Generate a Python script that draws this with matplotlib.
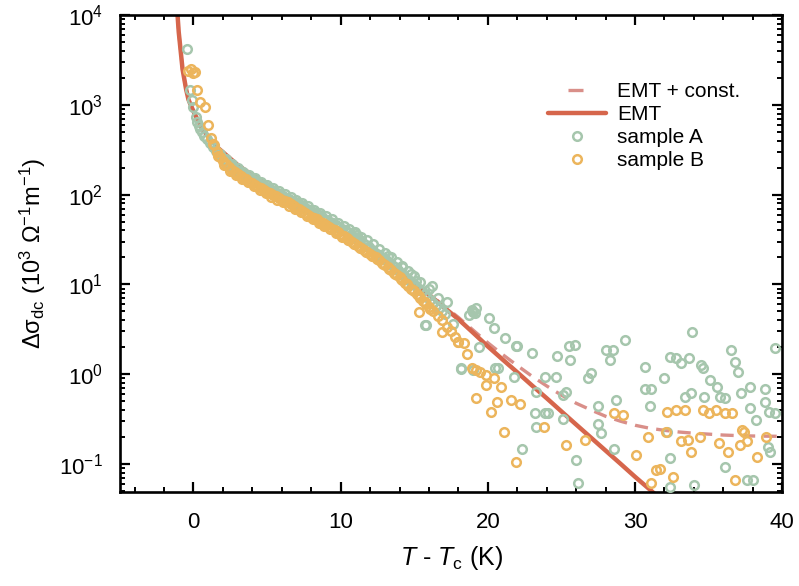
import matplotlib
matplotlib.use("Agg")
import matplotlib.pyplot as plt
from matplotlib.lines import Line2D
from matplotlib.ticker import MultipleLocator

plt.rcParams['font.family'] = ['Liberation Sans', 'DejaVu Sans']
plt.rcParams['mathtext.fontset'] = 'custom'
plt.rcParams['mathtext.rm'] = 'Liberation Sans'
plt.rcParams['mathtext.it'] = 'Liberation Sans:italic'
plt.rcParams['lines.scale_dashes'] = False
plt.rcParams['axes.unicode_minus'] = False

# EMT fit
emt_x = [-1.08, -1.0, -0.9, -0.74, -0.5, -0.34, 0.0, 0.27, 0.6, 1.15, 1.6, 2.3, 3.0, 4.0, 5.0,
         6.0, 7.0, 8.0, 9.0, 10.0, 11.0, 12.0, 13.0, 14.0, 15.0, 16.0, 17.0, 18.0, 19.0, 20.0,
         21.0, 22.0, 23.0, 24.0, 25.0, 26.0, 27.0, 28.0, 29.0, 30.0, 31.0, 32.0]
emt_y = [10000, 6500, 4500, 2500, 1500, 1150, 850, 690, 540, 415, 340, 270, 215, 165, 130,
         100, 78, 62, 48, 38, 30, 23, 17.5, 13.5, 10.3, 7.7, 5.6, 4.1, 2.9, 2.04,
         1.46, 1.05, 0.75, 0.54, 0.385, 0.275, 0.197, 0.141, 0.101, 0.072, 0.052, 0.037]

# EMT + constant
emtc_x = [-1.08, -1.0, -0.9, -0.74, -0.5, -0.34, 0.0, 0.27, 0.6, 1.15, 1.6, 2.3, 3.0, 4.0, 5.0,
          6.0, 7.0, 8.0, 9.0, 10.0, 11.0, 12.0, 13.0, 14.0, 15.0, 16.0, 17.0, 18.0, 19.0, 20.0,
          21.0, 22.0, 23.0, 24.0, 25.0, 26.0, 27.0, 28.0, 29.0, 30.0, 31.0, 32.0, 33.0, 34.0,
          35.0, 36.0, 37.0, 38.0, 39.0, 40.0]
emtc_y = [10000, 6500, 4500, 2500, 1500, 1150, 850, 690, 540, 415, 340, 270, 215, 165, 130,
          100, 78, 62, 48, 38, 30, 23, 17.7, 13.7, 10.5, 7.9, 5.8, 4.3, 3.1, 2.24,
          1.66, 1.25, 0.95, 0.74, 0.585, 0.475, 0.40, 0.34, 0.30, 0.27, 0.25, 0.237, 0.227, 0.22,
          0.215, 0.21, 0.207, 0.205, 0.204, 0.203]

# sample A (green)
a_x = [-0.43, -0.25, -0.1, 0.0, 0.14, 0.25, 0.35, 0.47, 0.6, 0.75, 0.93, 1.1, 1.3, 1.5, 1.7, 1.9,
       2.1, 2.3, 2.5, 2.7, 2.9, 3.1, 3.3, 3.5, 3.7, 3.9, 4.1, 4.3, 4.5, 4.7, 4.9, 5.1, 5.3, 5.5,
       5.7, 5.9, 6.1, 6.3, 6.5, 6.7, 6.9, 7.1, 7.3, 7.5, 7.7, 7.9, 8.1, 8.3, 8.5, 8.7, 8.9, 9.1,
       9.3, 9.5, 9.7, 9.9, 10.1, 10.3, 10.5, 10.7, 10.9, 11.1, 11.3, 11.5, 11.7, 11.9, 12.1, 12.3,
       12.5, 12.7, 12.9, 13.1, 13.3, 13.5, 13.7, 13.9, 14.1, 14.3, 14.5, 14.7, 14.9, 15.1, 15.3,
       15.5, 15.7, 15.9, 16.1, 16.3, 16.5, 16.7, 16.9, 17.1,
       1.4, 1.8, 2.2, 2.6, 3.0, 3.4, 3.8, 4.2, 4.6, 5.0, 5.4, 5.8, 6.2, 6.6, 7.0, 7.4, 7.8, 8.2,
       8.6, 9.0, 9.4, 9.8, 10.2, 10.6, 11.0, 11.4, 11.8, 12.2, 12.6, 13.0, 13.4, 13.8, 14.2,
       14.6, 15.0, 15.4, 16.0, 16.6,
       11.1, 10.9, 13.2, 14.2, 14.8, 15.1, 16.2, 17.2, 15.8, 17.6, 18.2, 18.9, 19.0, 19.2, 18.7,
       19.4, 15.7, 20.1, 20.4, 21.2, 21.9, 23.0, 24.7, 25.6, 25.5, 25.9, 28.0, 28.5, 28.3, 29.3,
       30.7, 32.4, 32.8, 33.7, 33.9, 33.1, 34.5, 34.6, 36.5, 36.8, 37.0, 39.5, 18.2, 20.5, 20.7,
       21.8, 23.9, 26.8, 27.0, 23.3, 25.3, 23.9, 23.2, 24.1, 25.1, 23.3, 27.5, 27.7, 27.5, 28.7,
       22.3, 26.0, 26.1, 28.6, 30.7, 31.0, 32.2, 32.4, 32.4, 33.4, 33.8, 34.0, 34.7, 35.1, 35.6,
       35.8, 36.1, 36.1, 37.2, 37.8, 37.8, 37.6, 38.0, 38.8, 38.8, 38.2, 39.1, 39.5, 39.0, 39.2,
       31.1, 32.0, 19.1, 24.6, 25.1, 19.0, 22.0]
a_y = [4200, 1480, 1150, 950, 740, 650, 590, 540, 500, 455, 415, 375, 340, 310, 285, 262,
       243, 228, 214, 202, 191, 182, 173, 165, 158, 151, 145, 139, 133, 128, 123, 118, 113, 109,
       105, 101, 97, 93, 89, 86, 82, 79, 76, 73, 70, 67, 64, 62, 59, 57, 54, 52,
       50, 48, 46, 44, 42, 40, 38, 36, 34, 33, 31, 29, 27.5, 26, 24.5, 23,
       22, 21, 19.5, 18.5, 17.5, 16.5, 15.5, 14.5, 13.5, 12.5, 11.8, 11, 10.3, 9.6, 9.0,
       8.4, 7.8, 7.2, 6.7, 6.2, 5.8, 5.4, 5.0, 4.7,
       340, 285, 250, 222, 198, 180, 165, 152, 140, 130, 120, 111, 103, 95, 88, 81, 74, 68,
       63, 58, 53, 49, 45, 41, 38, 34, 31, 28, 25, 22.5, 20, 18, 16,
       14, 12.3, 10.6, 8.8, 7.0,
       36, 37, 21, 15.5, 13, 11, 9.5, 6.3, 3.5, 3.6, 1.15, 5.25, 4.9, 5.4, 4.6,
       2.0, 3.55, 4.27, 3.31, 2.51, 2.04, 1.74, 1.58, 1.45, 2.04, 2.09, 1.86, 1.86, 1.45, 2.40,
       1.20, 1.55, 1.51, 1.51, 2.95, 1.32, 1.26, 1.17, 1.86, 1.38, 1.05, 1.95, 1.17, 1.17, 1.17,
       0.93, 0.93, 0.91, 1.02, 0.63, 0.63, 0.37, 0.37, 0.37, 0.32, 0.26, 0.28, 0.22, 0.44, 0.51,
       0.145, 0.11, 0.062, 0.145, 0.68, 0.44, 0.23, 0.117, 0.055, 0.56, 0.62, 0.059, 0.56, 0.87, 0.72,
       0.56, 0.54, 0.093, 0.62, 0.72, 0.42, 0.066, 0.066, 0.68, 0.49, 0.31, 0.38, 0.37, 0.155, 0.135,
       0.68, 0.91, 4.79, 0.93, 0.59, 1.12, 2.04]

# sample B (orange)
b_x = [-0.35, -0.2, -0.05, 0.1, 0.27, 0.47, 0.8, 1.0,
       1.2, 1.4, 1.6, 1.8, 2.0, 2.2, 2.4, 2.6, 2.8, 3.0, 3.2, 3.4, 3.6, 3.8, 4.0, 4.2, 4.4, 4.6,
       4.8, 5.0, 5.2, 5.4, 5.6, 5.8, 6.0, 6.2, 6.4, 6.6, 6.8, 7.0, 7.2, 7.4, 7.6, 7.8, 8.0, 8.2,
       8.4, 8.6, 8.8, 9.0, 9.2, 9.4, 9.6, 9.8, 10.0, 10.2, 10.4, 10.6, 10.8, 11.0, 11.2, 11.4,
       11.6, 11.8, 12.0, 12.2, 12.4, 12.6, 12.8, 13.0, 13.2, 13.4, 13.6, 13.8, 14.0, 14.2, 14.4,
       14.6, 14.8, 15.0, 15.2, 15.4, 15.6, 15.8, 16.0, 16.3, 16.6, 16.9, 17.2, 17.5, 17.8, 18.0,
       1.3, 1.7, 2.1, 2.5, 2.9, 3.3, 3.7, 4.1, 4.5, 4.9, 5.3, 5.7, 6.1, 6.5, 6.9, 7.3, 7.7, 8.1,
       8.5, 8.9, 9.3, 9.7, 10.1, 10.5, 10.9, 11.3, 11.7, 12.1, 12.5, 12.9, 13.3, 13.7, 14.1,
       14.5, 14.9, 15.3, 15.7, 16.1,
       15.3, 16.9, 18.0, 18.4, 18.6, 18.9, 19.2, 19.5, 19.9, 20.4, 19.9, 19.2, 20.9, 20.2, 20.6,
       21.6, 22.2, 21.1, 21.9, 23.8, 25.3, 26.6, 28.6, 29.2, 30.1, 30.9, 32.1, 31.4, 31.7, 31.1,
       32.6, 32.2, 32.8, 33.4, 33.8, 33.1, 33.6, 34.4, 34.6, 35.0, 35.5, 36.1, 36.6, 35.7, 36.3,
       36.8, 37.1, 37.4, 37.6, 38.3, 38.9, 37.3]
b_y = [2400, 2500, 2300, 2350, 1480, 1070, 940, 600,
       430, 360, 300, 265, 240, 220, 205, 190, 180, 170, 162, 155, 148, 140, 134, 128, 123, 118,
       113, 108, 104, 100, 96, 92, 88, 85, 82, 78, 75, 72, 69, 66, 63, 60, 57, 55,
       53, 50, 48, 46, 44, 42, 40, 38, 36, 34.5, 33, 31.5, 30, 28.5, 27, 25.5,
       24, 23, 22, 21, 20, 18.5, 17.5, 16.5, 15.5, 14.5, 13.5, 12.8, 12, 11.2, 10.5,
       9.6, 9.0, 8.4, 7.8, 7.0, 6.5, 6.0, 5.6, 5.0, 4.4, 4.0, 3.4, 3.0, 2.6, 2.3,
       370, 270, 215, 185, 165, 150, 138, 125, 113, 104, 95, 88, 82, 75, 69, 64, 58, 53,
       49, 45, 41, 37.5, 34, 31, 28, 25.5, 23, 21, 19, 16.8, 15, 13.2, 11.5,
       10, 8.6, 7.4, 6.3, 5.3,
       4.9, 2.95, 2.29, 2.24, 1.66, 1.17, 1.12, 1.07, 0.98, 0.91, 0.76, 0.55, 0.72, 0.38, 0.49,
       0.51, 0.46, 0.23, 0.105, 0.26, 0.162, 0.186, 0.37, 0.355, 0.126, 0.20, 0.23, 0.085, 0.089, 0.062,
       0.072, 0.38, 0.40, 0.40, 0.135, 0.178, 0.186, 0.20, 0.40, 0.37, 0.40, 0.37, 0.37, 0.17, 0.135,
       0.066, 0.162, 0.23, 0.178, 0.12, 0.20, 0.24]

green = '#a6c6ad'
orange = '#ecb55c'
red = '#d6664c'
pink = '#d98f89'

fig = plt.figure(figsize=(7.99, 5.86), dpi=100)
ax = fig.add_axes([0.150, 0.160, 0.829, 0.814])

ax.plot(emtc_x, emtc_y, color=pink, lw=2.4, linestyle=(0, (9.5, 6)), zorder=2)
ax.plot(emt_x, emt_y, color=red, lw=3.2, solid_capstyle='butt', zorder=2)
ax.plot(a_x, a_y, 'o', ms=6.2, mfc='none', mec=green, mew=1.8, zorder=3)
ax.plot(b_x, b_y, 'o', ms=6.2, mfc='none', mec=orange, mew=1.8, zorder=3)

ax.set_yscale('log')
ax.set_xlim(-5, 40)
ax.set_ylim(10 ** -1.315, 1e4)
ax.xaxis.set_major_locator(MultipleLocator(10))
ax.xaxis.set_minor_locator(MultipleLocator(2))

for s in ax.spines.values():
    s.set_linewidth(1.9)
ax.tick_params(which='both', direction='in', top=True, right=True, labelsize=16)
ax.tick_params(which='major', length=7, width=1.6, pad=12)
ax.tick_params(which='minor', length=3.5, width=1.4)
ax.tick_params(axis='x', which='major', pad=14)

ax.set_xlabel(r'$T$ - $T_{\rm c}$ (K)', fontsize=18, labelpad=8)
ax.set_ylabel(r'Δσ$_{\rm dc}$ (10$^{3}$ Ω$^{-1}$m$^{-1}$)', fontsize=17, labelpad=8)

handles = [
    Line2D([], [], color=pink, lw=2.4, linestyle=(25.2, (10.8, 28.8))),
    Line2D([], [], color=red, lw=3.2, solid_capstyle='round'),
    Line2D([], [], marker='o', ls='none', ms=6.2, mfc='none', mec=green, mew=1.8),
    Line2D([], [], marker='o', ls='none', ms=6.2, mfc='none', mec=orange, mew=1.8),
]
labels = ['EMT + const.', 'EMT', 'sample A', 'sample B']
ax.legend(handles, labels, loc='upper right', bbox_to_anchor=(0.952, 0.882), frameon=False,
          fontsize=15, handlelength=2.8, handletextpad=0.5, labelspacing=0.2, borderpad=0)

fig.savefig('out.png', dpi=100)
